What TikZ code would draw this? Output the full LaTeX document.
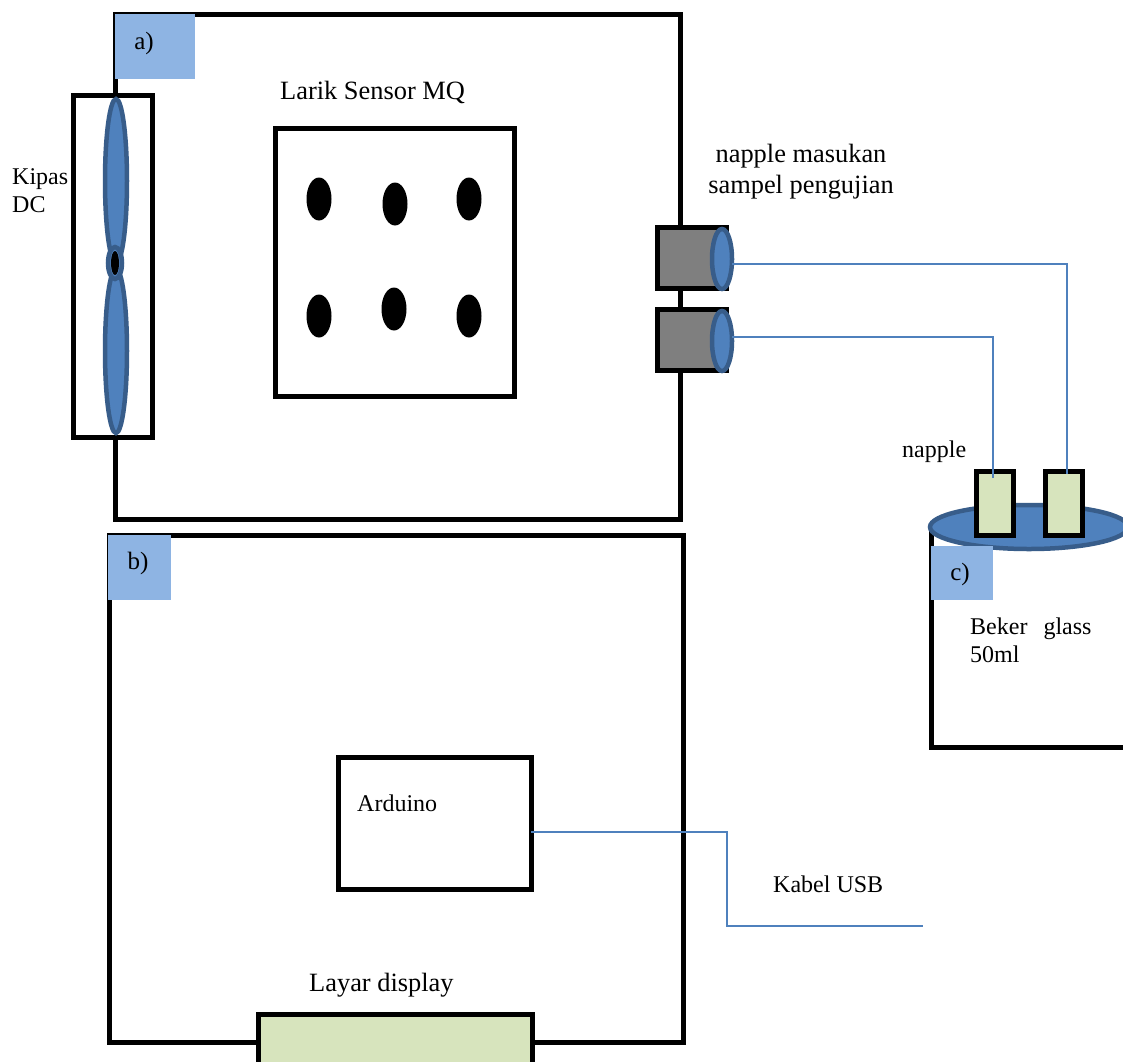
\documentclass[tikz,border=0pt]{standalone}
\usepackage{fontspec}
\setmainfont{Liberation Serif}
\usetikzlibrary{positioning, shapes.geometric}
\definecolor{tagBlue}{HTML}{8EB4E3}
\definecolor{partBlue}{HTML}{4F81BD}
\definecolor{partDark}{HTML}{385D8A}
\definecolor{partGreen}{HTML}{D7E4BD}
\definecolor{partGrey}{HTML}{7F7F7F}

\begin{document}
\begin{tikzpicture}[
    x=1pt, y=-1pt,
    panel/.style={rectangle, draw=black, line width=5pt, inner sep=0pt, outer sep=0pt, anchor=north west},
    tagbox/.style={rectangle, fill=tagBlue, inner sep=0pt, outer sep=0pt, anchor=north west},
    tagtext/.style={inner sep=0pt, font=\fontsize{25}{29}\selectfont},
    blade/.style={ellipse, draw=partDark, fill=partBlue, line width=4.5pt, inner sep=0pt, outer sep=0pt},
    sensor/.style={ellipse, fill=black, minimum width=25pt, minimum height=43pt, inner sep=0pt},
    nipple/.style={panel, fill=partGrey, minimum width=69pt, minimum height=61pt},
    nipcap/.style={blade, minimum width=20pt, minimum height=60pt},
    plug/.style={panel, fill=partGreen, minimum width=37pt, minimum height=64pt},
    wire/.style={draw=partBlue, line width=2pt},
    biglabel/.style={inner sep=0pt, align=center, font=\fontsize{26.4}{31}\selectfont},
    smalllabel/.style={inner sep=0pt, align=left, font=\fontsize{24}{28}\selectfont},
  ]
    \clip (0,0) rectangle (1123,1061);

    \node[panel, minimum width=565pt, minimum height=505pt] (boxA) at (115,14) {};
    \node[tagbox, minimum width=80pt, minimum height=65pt] (tagA) at (115,14) {};
    \node[tagtext] (textA) at (144,43) {a)};

    % kipas
    \node[panel, fill=white, minimum width=79pt, minimum height=342pt] (fan) at (73,95) {};
    \node[blade, minimum width=22pt, minimum height=164pt] (bladeT) at (116,181) {};
    \node[blade, minimum width=22pt, minimum height=164pt] (bladeB) at (116,351) {};
    \node[blade, minimum width=14pt, minimum height=32pt] (hub) at (115,263) {};
    \node[ellipse, fill=black, minimum width=8pt, minimum height=24pt, inner sep=0pt] (hubIn) at (115,263) {};
    \node[smalllabel, anchor=north west] (kipas) at (12,168) {Kipas\\DC};

    % larik sensor
    \node[biglabel, anchor=west] (larik) at (280,92) {Larik Sensor MQ};
    \node[panel, minimum width=239pt, minimum height=268pt] (array) at (275,128) {};
    \node[sensor] (s1) at (319,199) {};
    \node[sensor] (s2) at (395,204) {};
    \node[sensor] (s3) at (469,199) {};
    \node[sensor] (s4) at (319,316) {};
    \node[sensor] (s5) at (394,309) {};
    \node[sensor] (s6) at (469,316) {};

    % napple masukan
    \node[biglabel] (masukan) at (801,172) {napple masukan\\sampel pengujian};
    \node[nipple] (inA) at (657.5,227.5) {};
    \node[nipple] (inB) at (657.5,309.5) {};
    \node[nipcap] (capA) at (722,259) {};
    \node[nipcap] (capB) at (722,341) {};

    % beker glass
    \node[panel, minimum width=260pt, minimum height=220pt] (beaker) at (931,527) {};
    \node[blade, minimum width=198pt, minimum height=44pt] (lid) at (1029,527) {};
    \node[plug] (plugA) at (976.5,471.5) {};
    \node[plug] (plugB) at (1045.5,471.5) {};
    \node[tagbox, minimum width=62pt, minimum height=54pt] (tagC) at (931,546) {};
    \node[tagtext] (textC) at (960,574) {c)};
    \node[smalllabel, anchor=west] (nappleText) at (902,452) {napple};
    \node[smalllabel, anchor=north west] (bekerText) at (970,618) {Beker \ \,glass\\50ml};

    \draw[wire] ([yshift=-5pt]capA.east) -| ([xshift=3pt,yshift=-2pt]plugB.north);
    \draw[wire] ([yshift=4pt]capB.east) -| ([xshift=-2pt,yshift=-6pt]plugA.north);

    % box b
    \node[panel, minimum width=574pt, minimum height=507pt] (boxB) at (109,535) {};
    \node[tagbox, minimum width=63pt, minimum height=65pt] (tagB) at (108,535) {};
    \node[tagtext] (textB) at (138,563) {b)};
    \node[panel, minimum width=193pt, minimum height=132pt] (arduino) at (338,757) {};
    \node[smalllabel, anchor=west] (arduinoText) at (357,803) {Arduino};
    \node[panel, fill=partGreen, minimum width=274pt, minimum height=80pt] (display) at (258,1014) {};
    \node[biglabel, anchor=west] (displayText) at (309,985) {Layar display};

    % kabel usb
    \coordinate (usbEnd) at (923,926);
    \coordinate (usbBend) at (727,926);
    \draw[wire] (arduino.east |- 0,832) -- (727,832) -- (usbBend) -- (usbEnd);
    \node[smalllabel, anchor=west] (usbText) at (773,884) {Kabel USB};
  \end{tikzpicture}
\end{document}
